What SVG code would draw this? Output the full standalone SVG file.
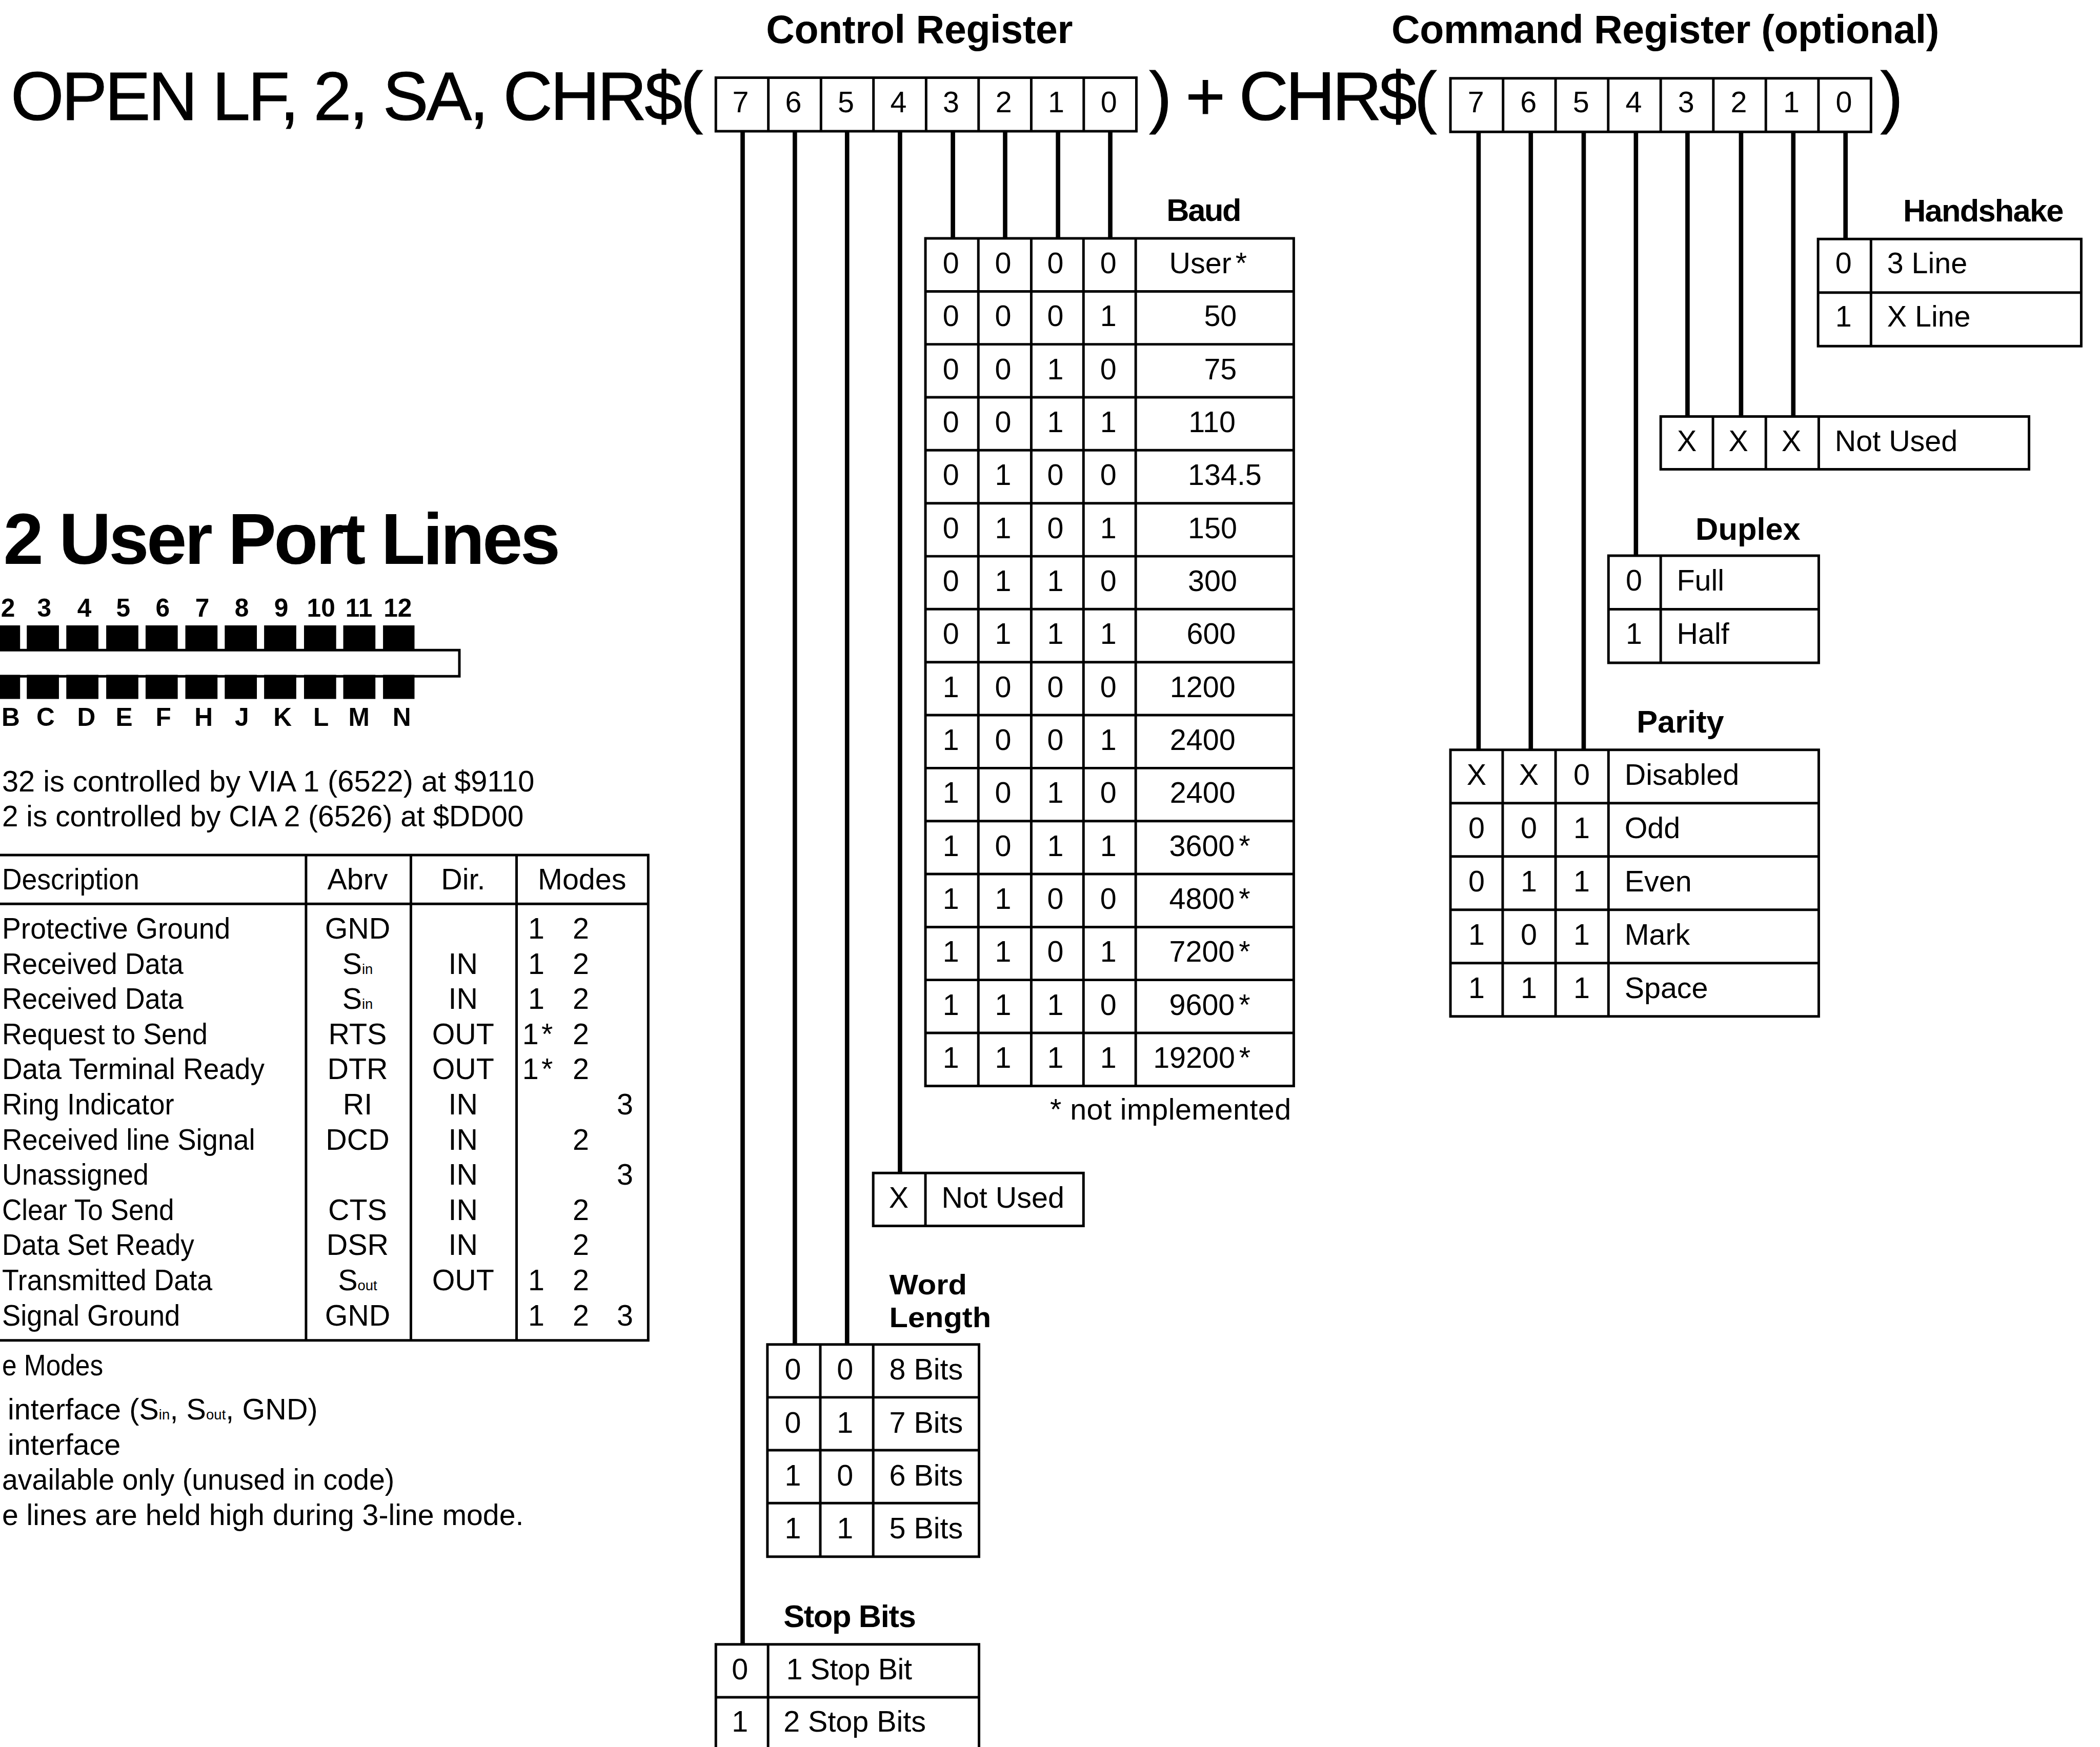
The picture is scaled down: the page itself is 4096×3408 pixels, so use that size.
<svg xmlns="http://www.w3.org/2000/svg" width="4096" height="3408" viewBox="0 0 4096 3408">
<style>
text{font-family:"Liberation Sans",Arial,sans-serif;fill:#000;font-size:22px}
.m{text-anchor:middle}
.b{font-weight:700}
.h{font-weight:700;font-size:23.5px}
.w{font-weight:700;font-size:21.4px}
.p{font-weight:700;font-size:19px;text-anchor:middle}
.big{font-size:51px;stroke:#000;stroke-width:.4}
.sub{font-size:10.5px}
.grid{fill:none;stroke:#000;stroke-width:1.9}
.wire{fill:none;stroke:#000;stroke-width:3.3}
.pin{fill:#000}
</style>
<rect width="4096" height="3408" fill="#fff"/>
<g transform="scale(2.61224)">
<g id="formula">
<text class="big" x="8" y="89.5" textLength="517" lengthAdjust="spacing">OPEN LF, 2, SA, CHR$(</text>
<text class="big" x="858" y="89.5" textLength="215" lengthAdjust="spacing">) + CHR$(</text>
<text class="big" x="1404" y="89.5">)</text>
</g>
<g id="control-register">
<text class="b" style="font-size:29.5px" x="572" y="32" textLength="229" lengthAdjust="spacing">Control Register</text>
<path class="grid" d="M534.5 58H848.5V98H534.5ZM573.7 58V98M613 58V98M652.2 58V98M691.5 58V98M730.7 58V98M770 58V98M809.2 58V98"/>
<text class="m" x="553" y="84">7</text><text class="m" x="592.4" y="84">6</text><text class="m" x="631.6" y="84">5</text><text class="m" x="670.9" y="84">4</text><text class="m" x="710.1" y="84">3</text><text class="m" x="749.4" y="84">2</text><text class="m" x="788.6" y="84">1</text><text class="m" x="827.9" y="84">0</text>
</g>
<g id="command-register">
<text class="b" style="font-size:29.5px" x="1039" y="32" textLength="409" lengthAdjust="spacing">Command Register (optional)</text>
<path class="grid" d="M1083 58.5H1397V98.5H1083ZM1122.3 58.5V98.5M1161.5 58.5V98.5M1200.8 58.5V98.5M1240 58.5V98.5M1279.3 58.5V98.5M1318.5 58.5V98.5M1357.8 58.5V98.5"/>
<text class="m" x="1102" y="84">7</text><text class="m" x="1141.3" y="84">6</text><text class="m" x="1180.5" y="84">5</text><text class="m" x="1219.8" y="84">4</text><text class="m" x="1259" y="84">3</text><text class="m" x="1298.3" y="84">2</text><text class="m" x="1337.5" y="84">1</text><text class="m" x="1376.8" y="84">0</text>
</g>
<g id="connectors">
<path class="wire" d="M554.5 98V1228M593.5 98V1004M632.5 98V1004M672 98V876M711.5 98V178M750.5 98V178M790 98V178M829 98V178"/>
<path class="wire" d="M1104 98V560M1143 98V560M1182.5 98V560M1221.5 98V415M1260 98V311M1300 98V311M1339 98V311M1378 98V178"/>
</g>
<g id="baud">
<text class="h" x="871" y="165" textLength="56" lengthAdjust="spacing">Baud</text>
<path class="grid" d="M691 178H966V811H691ZM691 217.6H966M691 257.1H966M691 296.7H966M691 336.2H966M691 375.8H966M691 415.4H966M691 454.9H966M691 494.5H966M691 534H966M691 573.6H966M691 613.2H966M691 652.7H966M691 692.3H966M691 731.8H966M691 771.4H966M730.5 178V811M770 178V811M809 178V811M848 178V811"/>
<text class="m" x="710" y="204">0</text><text class="m" x="749" y="204">0</text><text class="m" x="788" y="204">0</text><text class="m" x="827.5" y="204">0</text><text x="873" y="204">User<tspan dx="3">*</tspan></text>
<text class="m" x="710" y="243.6">0</text><text class="m" x="749" y="243.6">0</text><text class="m" x="788" y="243.6">0</text><text class="m" x="827.5" y="243.6">1</text><text x="899" y="243.6">50</text>
<text class="m" x="710" y="283.1">0</text><text class="m" x="749" y="283.1">0</text><text class="m" x="788" y="283.1">1</text><text class="m" x="827.5" y="283.1">0</text><text x="899" y="283.1">75</text>
<text class="m" x="710" y="322.7">0</text><text class="m" x="749" y="322.7">0</text><text class="m" x="788" y="322.7">1</text><text class="m" x="827.5" y="322.7">1</text><text x="887.5" y="322.7">110</text>
<text class="m" x="710" y="362.2">0</text><text class="m" x="749" y="362.2">1</text><text class="m" x="788" y="362.2">0</text><text class="m" x="827.5" y="362.2">0</text><text x="887" y="362.2">134.5</text>
<text class="m" x="710" y="401.8">0</text><text class="m" x="749" y="401.8">1</text><text class="m" x="788" y="401.8">0</text><text class="m" x="827.5" y="401.8">1</text><text x="887" y="401.8">150</text>
<text class="m" x="710" y="441.4">0</text><text class="m" x="749" y="441.4">1</text><text class="m" x="788" y="441.4">1</text><text class="m" x="827.5" y="441.4">0</text><text x="887" y="441.4">300</text>
<text class="m" x="710" y="480.9">0</text><text class="m" x="749" y="480.9">1</text><text class="m" x="788" y="480.9">1</text><text class="m" x="827.5" y="480.9">1</text><text x="886" y="480.9">600</text>
<text class="m" x="710" y="520.5">1</text><text class="m" x="749" y="520.5">0</text><text class="m" x="788" y="520.5">0</text><text class="m" x="827.5" y="520.5">0</text><text x="873.5" y="520.5">1200</text>
<text class="m" x="710" y="560">1</text><text class="m" x="749" y="560">0</text><text class="m" x="788" y="560">0</text><text class="m" x="827.5" y="560">1</text><text x="873.5" y="560">2400</text>
<text class="m" x="710" y="599.6">1</text><text class="m" x="749" y="599.6">0</text><text class="m" x="788" y="599.6">1</text><text class="m" x="827.5" y="599.6">0</text><text x="873.5" y="599.6">2400</text>
<text class="m" x="710" y="639.2">1</text><text class="m" x="749" y="639.2">0</text><text class="m" x="788" y="639.2">1</text><text class="m" x="827.5" y="639.2">1</text><text x="873" y="639.2">3600<tspan dx="3">*</tspan></text>
<text class="m" x="710" y="678.7">1</text><text class="m" x="749" y="678.7">1</text><text class="m" x="788" y="678.7">0</text><text class="m" x="827.5" y="678.7">0</text><text x="873" y="678.7">4800<tspan dx="3">*</tspan></text>
<text class="m" x="710" y="718.3">1</text><text class="m" x="749" y="718.3">1</text><text class="m" x="788" y="718.3">0</text><text class="m" x="827.5" y="718.3">1</text><text x="873" y="718.3">7200<tspan dx="3">*</tspan></text>
<text class="m" x="710" y="757.8">1</text><text class="m" x="749" y="757.8">1</text><text class="m" x="788" y="757.8">1</text><text class="m" x="827.5" y="757.8">0</text><text x="873" y="757.8">9600<tspan dx="3">*</tspan></text>
<text class="m" x="710" y="797.4">1</text><text class="m" x="749" y="797.4">1</text><text class="m" x="788" y="797.4">1</text><text class="m" x="827.5" y="797.4">1</text><text x="861" y="797.4">19200<tspan dx="3">*</tspan></text>
<text x="784" y="836" textLength="180" lengthAdjust="spacing">* not implemented</text>
</g>
<g id="control-not-used">
<path class="grid" d="M652 876H809V915.5H652ZM691 876V915.5"/>
<text class="m" x="671" y="902">X</text><text x="703" y="902">Not Used</text>
</g>
<g id="word-length">
<text class="w" x="664" y="966.5" textLength="58" lengthAdjust="spacingAndGlyphs">Word</text>
<text class="w" x="664" y="991" textLength="76" lengthAdjust="spacingAndGlyphs">Length</text>
<path class="grid" d="M573 1004H731V1162.5H573ZM573 1043.5H731M573 1083H731M573 1122.5H731M612.5 1004V1162.5M652 1004V1162.5"/>
<text class="m" x="592" y="1030">0</text><text class="m" x="631" y="1030">0</text><text x="664" y="1030">8 Bits</text>
<text class="m" x="592" y="1070">0</text><text class="m" x="631" y="1070">1</text><text x="664" y="1070">7 Bits</text>
<text class="m" x="592" y="1109.5">1</text><text class="m" x="631" y="1109.5">0</text><text x="664" y="1109.5">6 Bits</text>
<text class="m" x="592" y="1149">1</text><text class="m" x="631" y="1149">1</text><text x="664" y="1149">5 Bits</text>
</g>
<g id="stop-bits">
<text class="h" x="585" y="1215" textLength="99" lengthAdjust="spacing">Stop Bits</text>
<path class="grid" d="M534.5 1312V1228H731V1312M534.5 1267.5H731M573.5 1228V1312"/>
<text class="m" x="552.5" y="1254">0</text><text x="587" y="1254" textLength="94" lengthAdjust="spacing">1 Stop Bit</text>
<text class="m" x="552.5" y="1293">1</text><text x="585" y="1293">2 Stop Bits</text>
</g>
<g id="handshake">
<text class="h" x="1421" y="165.5" textLength="120" lengthAdjust="spacing">Handshake</text>
<path class="grid" d="M1357.5 178.5H1554V258.5H1357.5ZM1357.5 218.5H1554M1397 178.5V258.5"/>
<text class="m" x="1376.5" y="204">0</text><text x="1409" y="204">3 Line</text>
<text class="m" x="1376.5" y="244">1</text><text x="1409" y="244">X Line</text>
</g>
<g id="command-not-used">
<path class="grid" d="M1240 311H1515V350.5H1240ZM1279 311V350.5M1318.5 311V350.5M1358 311V350.5"/>
<text class="m" x="1259.5" y="337">X</text><text class="m" x="1298" y="337">X</text><text class="m" x="1337.5" y="337">X</text><text x="1370" y="337">Not Used</text>
</g>
<g id="duplex">
<text class="h" x="1266" y="403">Duplex</text>
<path class="grid" d="M1201 415H1358V495H1201ZM1201 455H1358M1240 415V495"/>
<text class="m" x="1220" y="441">0</text><text x="1252" y="441">Full</text>
<text class="m" x="1220" y="481">1</text><text x="1252" y="481">Half</text>
</g>
<g id="parity">
<text class="h" x="1222" y="547">Parity</text>
<path class="grid" d="M1083 560H1358V759H1083ZM1083 599.8H1358M1083 639.6H1358M1083 679.4H1358M1083 719.2H1358M1122 560V759M1161.5 560V759M1201 560V759"/>
<text class="m" x="1102.5" y="586">X</text><text class="m" x="1141.5" y="586">X</text><text class="m" x="1181" y="586">0</text><text x="1213" y="586">Disabled</text>
<text class="m" x="1102.5" y="625.8">0</text><text class="m" x="1141.5" y="625.8">0</text><text class="m" x="1181" y="625.8">1</text><text x="1213" y="625.8">Odd</text>
<text class="m" x="1102.5" y="665.6">0</text><text class="m" x="1141.5" y="665.6">1</text><text class="m" x="1181" y="665.6">1</text><text x="1213" y="665.6">Even</text>
<text class="m" x="1102.5" y="705.4">1</text><text class="m" x="1141.5" y="705.4">0</text><text class="m" x="1181" y="705.4">1</text><text x="1213" y="705.4">Mark</text>
<text class="m" x="1102.5" y="745.2">1</text><text class="m" x="1141.5" y="745.2">1</text><text class="m" x="1181" y="745.2">1</text><text x="1213" y="745.2">Space</text>
</g>
<g id="user-port">
<text class="b" style="font-size:54px" x="2.5" y="421" textLength="416" lengthAdjust="spacing">2 User Port Lines</text>
<text class="p" x="6" y="460.7">2</text><text class="p" x="33" y="460.7">3</text><text class="p" x="63" y="460.7">4</text><text class="p" x="92" y="460.7">5</text><text class="p" x="121.5" y="460.7">6</text><text class="p" x="151" y="460.7">7</text><text class="p" x="180.5" y="460.7">8</text><text class="p" x="210" y="460.7">9</text><text class="p" x="239.7" y="460.7">10</text><text class="p" x="268" y="460.7">11</text><text class="p" x="297" y="460.7">12</text>
<path class="pin" d="M0 467H15V486H0ZM20 467H44V486H20ZM49.5 467H73.5V486H49.5ZM79.3 467H103.3V486H79.3ZM108.7 467H132.7V486H108.7ZM138.4 467H162.4V486H138.4ZM167.8 467H191.8V486H167.8ZM197.2 467H221.2V486H197.2ZM227 467H251V486H227ZM256.3 467H280.3V486H256.3ZM286 467H309.5V486H286Z"/>
<path class="grid" d="M-4 485.5H343V505H-4Z"/>
<path class="pin" d="M0 504H15V522H0ZM20 504H44V522H20ZM49.5 504H73.5V522H49.5ZM79.3 504H103.3V522H79.3ZM108.7 504H132.7V522H108.7ZM138.4 504H162.4V522H138.4ZM167.8 504H191.8V522H167.8ZM197.2 504H221.2V522H197.2ZM227 504H251V522H227ZM256.3 504H280.3V522H256.3ZM286 504H309.5V522H286Z"/>
<text class="p" x="8" y="542">B</text><text class="p" x="34" y="542">C</text><text class="p" x="64.5" y="542">D</text><text class="p" x="92.7" y="542">E</text><text class="p" x="122" y="542">F</text><text class="p" x="152" y="542">H</text><text class="p" x="180.6" y="542">J</text><text class="p" x="211" y="542">K</text><text class="p" x="239.7" y="542">L</text><text class="p" x="268" y="542">M</text><text class="p" x="300" y="542">N</text>
<text x="1.5" y="591" textLength="397.5" lengthAdjust="spacingAndGlyphs">32 is controlled by VIA 1 (6522) at $9110</text>
<text x="1.5" y="617" textLength="389.5" lengthAdjust="spacingAndGlyphs">2 is controlled by CIA 2 (6526) at $DD00</text>
</g>
<g id="line-table">
<path class="grid" d="M-4 638.5H484V1001H-4ZM-4 675H484M228.5 638.5V1001M306.8 638.5V1001M385.7 638.5V1001"/>
<text x="1.5" y="664" textLength="102.5" lengthAdjust="spacingAndGlyphs">Description</text><text class="m" x="267" y="664">Abrv</text><text class="m" x="345.8" y="664">Dir.</text><text class="m" x="434.6" y="664">Modes</text>
<text x="1.5" y="700.9" textLength="170.5" lengthAdjust="spacingAndGlyphs">Protective Ground</text><text class="m" x="267" y="700.9">GND</text><text class="m" x="400.4" y="700.9">1</text><text class="m" x="433.7" y="700.9">2</text>
<text x="1.5" y="727.2" textLength="135.5" lengthAdjust="spacingAndGlyphs">Received Data</text><text class="m" x="267" y="727.2">S<tspan class="sub">in</tspan></text><text class="m" x="345.8" y="727.2">IN</text><text class="m" x="400.4" y="727.2">1</text><text class="m" x="433.7" y="727.2">2</text>
<text x="1.5" y="753.4" textLength="135.5" lengthAdjust="spacingAndGlyphs">Received Data</text><text class="m" x="267" y="753.4">S<tspan class="sub">in</tspan></text><text class="m" x="345.8" y="753.4">IN</text><text class="m" x="400.4" y="753.4">1</text><text class="m" x="433.7" y="753.4">2</text>
<text x="1.5" y="779.7" textLength="153.5" lengthAdjust="spacingAndGlyphs">Request to Send</text><text class="m" x="267" y="779.7">RTS</text><text class="m" x="345.8" y="779.7">OUT</text><text x="390" y="779.7">1<tspan dx="2">*</tspan></text><text class="m" x="433.7" y="779.7">2</text>
<text x="1.5" y="806" textLength="196" lengthAdjust="spacingAndGlyphs">Data Terminal Ready</text><text class="m" x="267" y="806">DTR</text><text class="m" x="345.8" y="806">OUT</text><text x="390" y="806">1<tspan dx="2">*</tspan></text><text class="m" x="433.7" y="806">2</text>
<text x="1.5" y="832.2" textLength="128.5" lengthAdjust="spacingAndGlyphs">Ring Indicator</text><text class="m" x="267" y="832.2">RI</text><text class="m" x="345.8" y="832.2">IN</text><text class="m" x="466.6" y="832.2">3</text>
<text x="1.5" y="858.5" textLength="189" lengthAdjust="spacingAndGlyphs">Received line Signal</text><text class="m" x="267" y="858.5">DCD</text><text class="m" x="345.8" y="858.5">IN</text><text class="m" x="433.7" y="858.5">2</text>
<text x="1.5" y="884.7" textLength="109.5" lengthAdjust="spacingAndGlyphs">Unassigned</text><text class="m" x="345.8" y="884.7">IN</text><text class="m" x="466.6" y="884.7">3</text>
<text x="1.5" y="911" textLength="128.5" lengthAdjust="spacingAndGlyphs">Clear To Send</text><text class="m" x="267" y="911">CTS</text><text class="m" x="345.8" y="911">IN</text><text class="m" x="433.7" y="911">2</text>
<text x="1.5" y="937.2" textLength="143.5" lengthAdjust="spacingAndGlyphs">Data Set Ready</text><text class="m" x="267" y="937.2">DSR</text><text class="m" x="345.8" y="937.2">IN</text><text class="m" x="433.7" y="937.2">2</text>
<text x="1.5" y="963.5" textLength="157" lengthAdjust="spacingAndGlyphs">Transmitted Data</text><text class="m" x="267" y="963.5">S<tspan class="sub">out</tspan></text><text class="m" x="345.8" y="963.5">OUT</text><text class="m" x="400.4" y="963.5">1</text><text class="m" x="433.7" y="963.5">2</text>
<text x="1.5" y="989.8" textLength="133" lengthAdjust="spacingAndGlyphs">Signal Ground</text><text class="m" x="267" y="989.8">GND</text><text class="m" x="400.4" y="989.8">1</text><text class="m" x="433.7" y="989.8">2</text><text class="m" x="466.6" y="989.8">3</text>
</g>
<g id="modes-notes">
<text x="1.5" y="1027" textLength="75.5" lengthAdjust="spacingAndGlyphs">e Modes</text>
<text x="5.7" y="1060" textLength="231.5" lengthAdjust="spacing">interface (S<tspan class="sub">in</tspan>, S<tspan class="sub">out</tspan>, GND)</text>
<text x="5.7" y="1086.4">interface</text>
<text x="1.5" y="1112.4" textLength="293" lengthAdjust="spacingAndGlyphs">available only (unused in code)</text>
<text x="1.5" y="1139" textLength="389.5" lengthAdjust="spacingAndGlyphs">e lines are held high during 3-line mode.</text>
</g>
</g>
</svg>
